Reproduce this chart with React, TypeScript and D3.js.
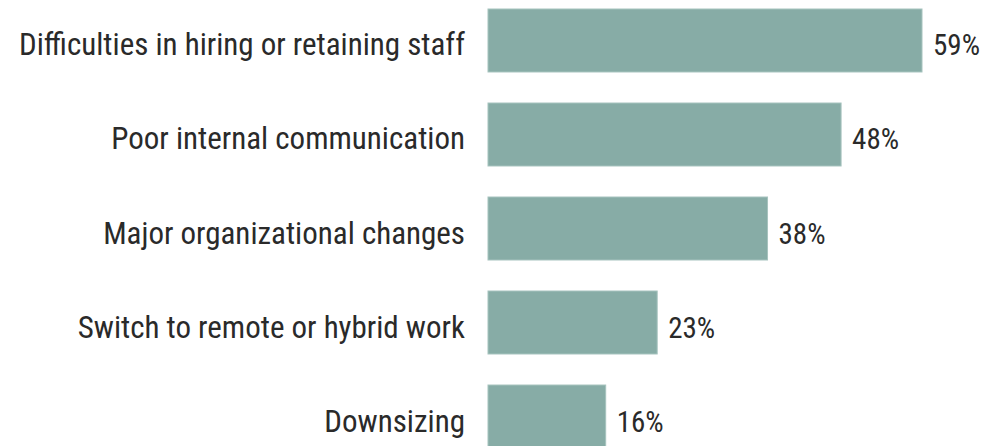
import React from 'react';
import * as d3 from 'd3';

const categories = [
  'Difficulties in hiring or retaining staff',
  'Poor internal communication',
  'Major organizational changes',
  'Switch to remote or hybrid work',
  'Downsizing',
];
const values = [59, 48, 38, 23, 16];

const width = 986;
const height = 446;
const font = '"Roboto Condensed", "Liberation Sans Narrow", "DejaVu Sans Condensed", sans-serif';

const App = () => {
  const x = d3.scaleLinear().domain([0, 59]).range([488, 922]);
  const y = d3.scaleBand<string>()
    .domain(categories)
    .range([9, 448])
    .paddingInner(0.33)
    .paddingOuter(0);

  return (
    <svg
      width={width}
      height={height}
      style={{ position: 'absolute', left: 0, top: 0, background: '#fff' }}
    >
      {categories.map((cat, i) => {
        const cy = (y(cat) as number) + y.bandwidth() / 2;
        return (
          <g key={cat}>
            <rect
              x={x(0)}
              y={y(cat)}
              width={x(values[i]) - x(0)}
              height={y.bandwidth()}
              fill="#87aca6"
              stroke="#a6c3be"
              strokeWidth={1}
            />
            <text
              x={465}
              y={cy + 15}
              textAnchor="end"
              fontFamily={font}
              fontSize={31}
              fill="#2a2a2a"
            >
              {cat}
            </text>
            <text
              x={x(values[i]) + 11}
              y={cy + 15}
              fontFamily={font}
              fontSize={29}
              fill="#2a2a2a"
            >
              {values[i]}%
            </text>
          </g>
        );
      })}
    </svg>
  );
};

export default App;
